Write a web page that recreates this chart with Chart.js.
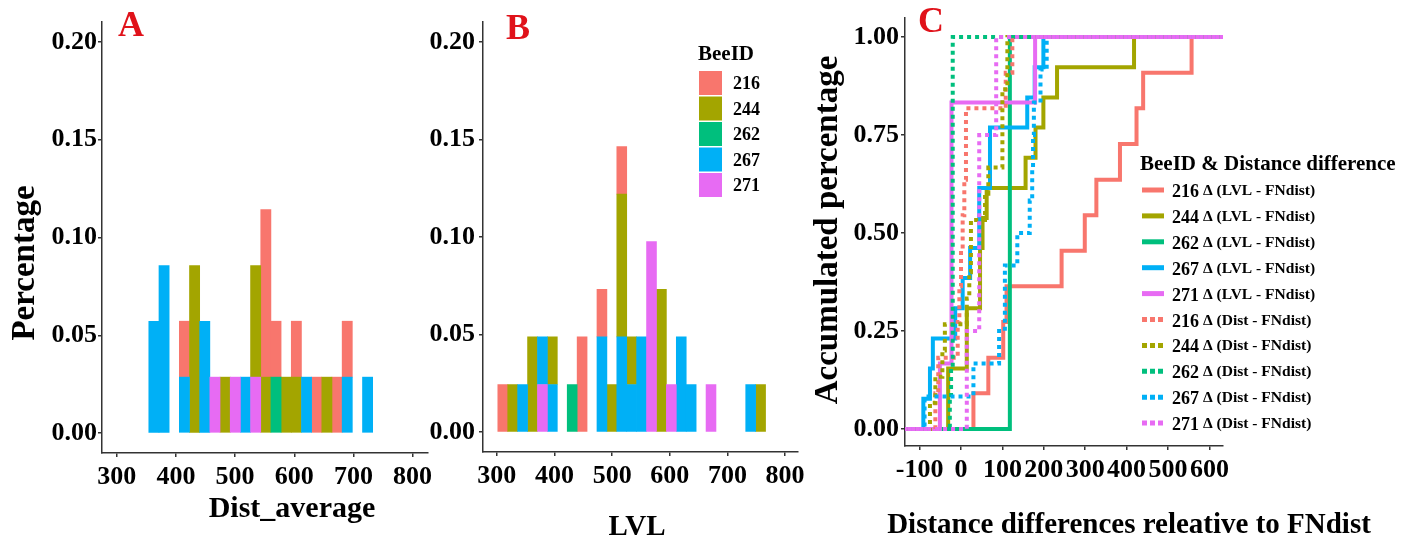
<!DOCTYPE html>
<html>
<head>
<meta charset="utf-8">
<title>Bee distances</title>
<script src="https://cdn.jsdelivr.net/npm/chart.js@4.4.1/dist/chart.umd.min.js"></script>
<style>
  html, body { margin: 0; padding: 0; background: #fff; }
  #fig { position: relative; width: 1402px; height: 543px; overflow: hidden; background: #fff; }
  #fig canvas { position: absolute; top: 0; }
  #chart-a { left: 0; }
  #chart-b { left: 410px; }
  #chart-c { left: 800px; }
</style>
</head>
<body>
<div id="fig">
  <canvas id="chart-a" width="440" height="543"></canvas>
  <canvas id="chart-b" width="400" height="543"></canvas>
  <canvas id="chart-c" width="602" height="543"></canvas>
</div>
<script>
/* ============================================
   Bee trips: histograms (A, B) + ECDF (C)
   ============================================ */

const SERIF = "'Liberation Serif', 'Times New Roman', serif";
const AXIS = '#333333';
const RED = '#e0121a';

const beeIds = ['216', '244', '262', '267', '271'];
const beeColors = ['#F8766D', '#A3A500', '#00BF7D', '#00B0F6', '#E76BF3'];

// tick labels
const pctTicks = [0, 0.05, 0.10, 0.15, 0.20];
const pctTickLabels = ['0.00', '0.05', '0.10', '0.15', '0.20'];
const distTicks = [300, 400, 500, 600, 700, 800];
const distTickLabels = ['300', '400', '500', '600', '700', '800'];
const diffTicks = [-100, 0, 100, 200, 300, 400, 500, 600];
const diffTickLabels = ['-100', '0', '100', '200', '300', '400', '500', '600'];
const accTicks = [0, 0.25, 0.5, 0.75, 1];
const accTickLabels = ['0.00', '0.25', '0.50', '0.75', '1.00'];

// Panel A - Dist_average histogram (bin centres, share per bee)
const binsA = [362.7, 379.9, 397.1, 414.3, 431.5, 448.7, 465.9, 483.1, 500.3, 517.5, 534.7,
  551.9, 569.1, 586.3, 603.5, 620.7, 637.9, 655.1, 672.3, 689.5, 706.7, 723.9];
const distA216 = [0, 0, 0, .0286, 0, 0, 0, 0, 0, 0, 0, .0857, .0286, 0, .0286, 0, .0286, 0, .0286, .0286, 0, 0];
const distA244 = [0, 0, 0, 0, .0857, 0, 0, .0286, 0, 0, .0571, .0286, 0, .0286, .0286, 0, 0, .0286, 0, 0, 0, 0];
const distA262 = [0, 0, 0, 0, 0, 0, 0, 0, 0, 0, 0, 0, .0286, 0, 0, 0, 0, 0, 0, 0, 0, 0];
const distA267 = [.0571, .0857, 0, .0286, 0, .0571, 0, 0, 0, .0286, 0, 0, 0, 0, 0, .0286, 0, 0, 0, .0286, 0, .0286];
const distA271 = [0, 0, 0, 0, 0, 0, .0286, 0, .0286, 0, .0286, 0, 0, 0, 0, 0, 0, 0, 0, 0, 0, 0];

// Panel B - LVL histogram
const binsB = [310.3, 327.5, 344.7, 361.9, 379.1, 396.3, 413.5, 430.7, 447.9, 465.1, 482.3, 499.5,
  516.7, 533.9, 551.1, 568.3, 585.5, 602.7, 619.9, 637.1, 654.3, 671.5, 688.7, 705.9, 723.1, 740.3, 757.5];
const lvlB216 = [.0244, 0, 0, 0, 0, 0, 0, 0, .0488, 0, .0244, 0, .0244, 0, 0, 0, 0, 0, 0, 0, 0, 0, 0, 0, 0, 0, 0];
const lvlB244 = [0, .0244, 0, .0488, 0, .0244, 0, 0, 0, 0, 0, .0244, .0732, .0244, 0, 0, .0732, 0, 0, 0, 0, 0, 0, 0, 0, 0, .0244];
const lvlB262 = [0, 0, 0, 0, 0, 0, 0, .0244, 0, 0, 0, 0, 0, 0, 0, 0, 0, 0, 0, 0, 0, 0, 0, 0, 0, 0, 0];
const lvlB267 = [0, 0, .0244, 0, .0244, .0244, 0, 0, 0, 0, .0488, 0, .0488, .0244, .0488, 0, 0, 0, .0488, .0244, 0, 0, 0, 0, 0, .0244, 0];
const lvlB271 = [0, 0, 0, 0, .0244, 0, 0, 0, 0, 0, 0, 0, 0, 0, 0, .0976, 0, .0244, 0, 0, 0, .0244, 0, 0, 0, 0, 0];

// Panel C - ECDF steps (x = distance difference, y = accumulated share)
const lvl216X = [-140, 30, 66, 102, 110, 243, 299, 327, 384, 424, 440, 557, 640];
const lvl216Y = [0, .091, .182, .273, .364, .455, .545, .636, .727, .818, .909, 1, 1];
const lvl244X = [-140, -31, 14, 46, 52, 62, 156, 180, 199, 232, 418, 640];
const lvl244Y = [0, .154, .308, .462, .538, .615, .692, .769, .846, .923, 1, 1];
const lvl262X = [-140, 118, 640];
const lvl262Y = [0, 1, 1];
const lvl267X = [-140, -91, -75, -68, -14, 4, 22, 44, 70, 160, 178, 199, 640];
const lvl267Y = [0, .077, .154, .231, .308, .385, .462, .615, .769, .846, .923, 1, 1];
const lvl271X = [-140, -51, -23, 179, 640];
const lvl271Y = [0, .167, .833, 1, 1];
const dist216X = [-140, -62, -55, -8, -4, 0, 4, 8, 12, 108, 124, 640];
const dist216Y = [0, .091, .182, .273, .364, .455, .545, .636, .818, .909, 1, 1];
const dist244X = [-140, -75, -62, -45, -39, 14, 20, 24, 58, 66, 100, 112, 640];
const dist244Y = [0, .067, .133, .2, .267, .333, .4, .533, .6, .667, .867, 1, 1];
const dist262X = [-140, -27, -24, -20, 640];
const dist262Y = [0, .077, .154, 1, 1];
const dist267X = [-140, -88, 30, 92, 106, 136, 166, 172, 174, 176, 192, 207, 640];
const dist267Y = [0, .083, .167, .25, .417, .5, .583, .667, .75, .833, .917, 1, 1];
const dist271X = [-140, 14, 44, 85, 640];
const dist271Y = [0, .25, .75, 1, 1];

const cSeries = [
  { bee: 0, kind: 'LVL', xs: lvl216X, ys: lvl216Y },
  { bee: 1, kind: 'LVL', xs: lvl244X, ys: lvl244Y },
  { bee: 2, kind: 'LVL', xs: lvl262X, ys: lvl262Y },
  { bee: 3, kind: 'LVL', xs: lvl267X, ys: lvl267Y },
  { bee: 4, kind: 'LVL', xs: lvl271X, ys: lvl271Y },
  { bee: 0, kind: 'Dist', xs: dist216X, ys: dist216Y },
  { bee: 1, kind: 'Dist', xs: dist244X, ys: dist244Y },
  { bee: 2, kind: 'Dist', xs: dist262X, ys: dist262Y },
  { bee: 3, kind: 'Dist', xs: dist267X, ys: dist267Y },
  { bee: 4, kind: 'Dist', xs: dist271X, ys: dist271Y }
];

function drawText(ctx, text, x, y, size, opt = {}) {
  ctx.save();
  ctx.font = `bold ${size}px ${SERIF}`;
  ctx.fillStyle = opt.color || '#000';
  ctx.textAlign = opt.align || 'center';
  ctx.textBaseline = 'alphabetic';
  ctx.translate(x, y);
  if (opt.vertical) ctx.rotate(-Math.PI / 2);
  ctx.fillText(text, 0, 0);
  ctx.restore();
}

// extra text + legends drawn on top of each panel
function decor(draw) {
  return { id: 'decor', afterDraw(chart) { draw(chart.ctx); } };
}

function axisStyle(cfg) {
  return {
    type: 'linear',
    min: cfg.min,
    max: cfg.max,
    offset: false,
    stacked: cfg.stacked,
    border: { display: true, color: AXIS, width: 1.5 },
    grid: { display: true, offset: false, drawOnChartArea: false, drawTicks: true, tickLength: 4, color: AXIS, lineWidth: 1.5 },
    ticks: {
      color: '#000',
      font: { family: SERIF, size: 26, weight: 'bold' },
      padding: cfg.pad,
      autoSkip: false,
      maxRotation: 0,
      minRotation: 0,
      callback: (v, i) => cfg.labels[i]
    },
    afterBuildTicks: s => { s.ticks = cfg.values.map(value => ({ value })); },
    afterFit: s => {
      if (cfg.width) s.width = cfg.width;
      if (cfg.height) s.height = cfg.height;
    }
  };
}

function buildHistogram(canvasId, bins, seriesList, cfg, plugin) {
  // ggplot stacks the first bee on top; Chart.js stacks the first dataset at the bottom
  const datasets = seriesList.map((vals, i) => ({
    label: beeIds[i],
    // empty bins are left out so no hairline is drawn at zero
    data: bins.map((x, j) => ({ x, y: vals[j] })).filter(p => p.y > 0),
    backgroundColor: beeColors[i],
    borderWidth: 0,
    stack: 'bees',
    barPercentage: 1,
    categoryPercentage: 1
  })).reverse();

  return new Chart(document.getElementById(canvasId), {
    type: 'bar',
    data: { datasets },
    options: {
      responsive: false,
      animation: false,
      events: [],
      layout: { padding: cfg.padding },
      plugins: { legend: { display: false }, tooltip: { enabled: false } },
      scales: {
        x: axisStyle({ min: cfg.xMin, max: cfg.xMax, stacked: true, values: distTicks, labels: distTickLabels, height: cfg.xH, pad: 5 }),
        y: axisStyle({ min: -0.0102, max: 0.2102, stacked: true, values: pctTicks, labels: pctTickLabels, width: cfg.yW, pad: cfg.yPad })
      }
    },
    plugins: [plugin]
  });
}

// --- A ---
buildHistogram('chart-a', binsA, [distA216, distA244, distA262, distA267, distA271],
  { padding: { left: 0, right: 12, top: 22, bottom: 0 }, xMin: 275, xMax: 826, xH: 90, yW: 102, yPad: 1 },
  decor(ctx => {
    drawText(ctx, 'A', 131, 36, 36, { color: RED });
    drawText(ctx, 'Percentage', 34, 263, 33, { vertical: true });
    drawText(ctx, 'Dist_average', 292, 517, 30);
  }));

// --- B ---
buildHistogram('chart-b', binsB, [lvlB216, lvlB244, lvlB262, lvlB267, lvlB271],
  { padding: { left: 0, right: 10, top: 22, bottom: 0 }, xMin: 276, xMax: 822, xH: 91, yW: 73, yPad: 4 },
  decor(ctx => {
    drawText(ctx, 'B', 108, 39, 36, { color: RED });
    drawText(ctx, 'LVL', 227, 535, 29);
    drawText(ctx, 'BeeID', 288, 60, 21, { align: 'left' });
    beeIds.forEach((id, i) => {
      const cy = 83 + i * 25.5;
      ctx.fillStyle = beeColors[i];
      ctx.fillRect(289, cy - 12, 23, 24);
      drawText(ctx, id, 323, cy + 6, 18, { align: 'left' });
    });
  }));

// --- C ---
const cDatasets = cSeries.map(s => ({
  label: beeIds[s.bee] + ' \u0394 (' + s.kind + ' - FNdist)',
  data: s.xs.map((x, i) => ({ x, y: s.ys[i] })),
  borderColor: beeColors[s.bee],
  borderWidth: 4,
  borderDash: s.kind === 'Dist' ? [4, 4] : [],
  borderCapStyle: 'butt',
  stepped: true,
  pointRadius: 0,
  fill: false
})).reverse(); // later groups are painted on top, as in ggplot

new Chart(document.getElementById('chart-c'), {
  type: 'line',
  data: { datasets: cDatasets },
  options: {
    responsive: false,
    animation: false,
    events: [],
    layout: { padding: { left: 0, right: 179, top: 18, bottom: 0 } },
    plugins: { legend: { display: false }, tooltip: { enabled: false } },
    scales: {
      x: axisStyle({ min: -135.3, max: 632.9, values: diffTicks, labels: diffTickLabels, height: 97, pad: 5 }),
      y: axisStyle({ min: -0.0434, max: 1.0485, values: accTicks, labels: accTickLabels, width: 105, pad: 2 })
    }
  },
  plugins: [decor(ctx => {
    drawText(ctx, 'C', 131, 32, 36, { color: RED });
    drawText(ctx, 'Accumulated percentage', 37, 230, 33, { vertical: true });
    drawText(ctx, 'Distance differences releative to FNdist', 329, 533, 29);
    drawText(ctx, 'BeeID & Distance difference', 340, 170, 21, { align: 'left' });
    cSeries.forEach((s, i) => {
      const cy = 190 + i * 25.9;
      ctx.save();
      ctx.strokeStyle = beeColors[s.bee];
      ctx.lineWidth = 5;
      ctx.lineCap = 'butt';
      ctx.setLineDash(s.kind === 'Dist' ? [5, 3] : []);
      ctx.beginPath();
      ctx.moveTo(342, cy);
      ctx.lineTo(364, cy);
      ctx.stroke();
      ctx.restore();
      drawText(ctx, beeIds[s.bee], 372, cy + 7, 18, { align: 'left' });
      ctx.font = `bold 18px ${SERIF}`;
      const w = ctx.measureText(beeIds[s.bee]).width;
      drawText(ctx, '\u0394 (' + s.kind + ' - FNdist)', 372 + w + 4, cy + 5, 15.5, { align: 'left' });
    });
  })]
});
</script>
</body>
</html>
